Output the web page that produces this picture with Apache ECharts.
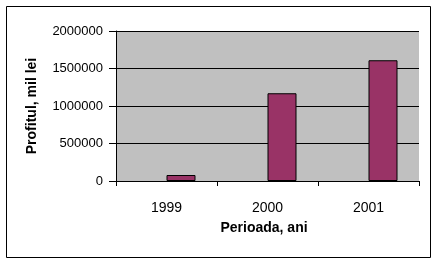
<!DOCTYPE html>
<html>
<head>
<meta charset="utf-8">
<script src="https://cdn.jsdelivr.net/npm/echarts@6/dist/echarts.min.js"></script>
<style>
html,body{margin:0;padding:0;background:#fff;}
#chart{width:437px;height:263px;}
</style>
</head>
<body>
<div id="chart"></div>
<script>
var categories = ['1999', '2000', '2001'];
var profitValues = [80000, 1170000, 1610000];
var emptySeries = ['-', '-', '-'];
var yTicks = [0, 500000, 1000000, 1500000, 2000000];

var chart = echarts.init(document.getElementById('chart'), null, {renderer: 'canvas'});
var font = 'Liberation Sans, Arial, sans-serif';
chart.setOption({
  animation: false,
  backgroundColor: '#ffffff',
  graphic: [{
    type: 'rect',
    shape: {x: 6.5, y: 6.5, width: 424, height: 251},
    style: {fill: 'none', stroke: '#000', lineWidth: 1},
    z: 100
  }],
  grid: {
    left: 116, right: 18, top: 31, bottom: 82,
    show: true, backgroundColor: '#C0C0C0', borderWidth: 0
  },
  xAxis: {
    type: 'category',
    data: categories,
    boundaryGap: true,
    name: 'Perioada, ani',
    nameLocation: 'middle',
    nameGap: 40,
    nameTextStyle: {fontFamily: font, fontSize: 14, fontWeight: 'bold', color: '#000', padding: [0, 7, 0, 0]},
    axisLine: {show: true, lineStyle: {color: '#000', width: 1}},
    axisTick: {show: true, length: 5, alignWithLabel: false, lineStyle: {color: '#000'}},
    axisLabel: {fontFamily: font, fontSize: 14, color: '#000', margin: 20},
    splitLine: {show: false}
  },
  yAxis: {
    type: 'value',
    min: yTicks[0],
    max: yTicks[yTicks.length - 1],
    interval: yTicks[1] - yTicks[0],
    name: 'Profitul, mil lei',
    nameLocation: 'middle',
    nameGap: 77,
    nameTextStyle: {fontFamily: font, fontSize: 14, fontWeight: 'bold', color: '#000'},
    axisLine: {show: true, lineStyle: {color: '#000', width: 1}},
    axisTick: {show: true, length: 7, lineStyle: {color: '#000'}},
    axisLabel: {fontFamily: font, fontSize: 13, color: '#000', margin: 13,
      formatter: function (v) { return String(v); }},
    splitLine: {show: true, lineStyle: {color: '#000', width: 1}}
  },
  series: [{
    type: 'bar',
    data: emptySeries,
    barWidth: 29,
    barGap: '0%'
  }, {
    type: 'bar',
    data: profitValues,
    barWidth: 29,
    barGap: '0%',
    itemStyle: {color: '#993366', borderColor: '#000', borderWidth: 1}
  }]
});
</script>
</body>
</html>
